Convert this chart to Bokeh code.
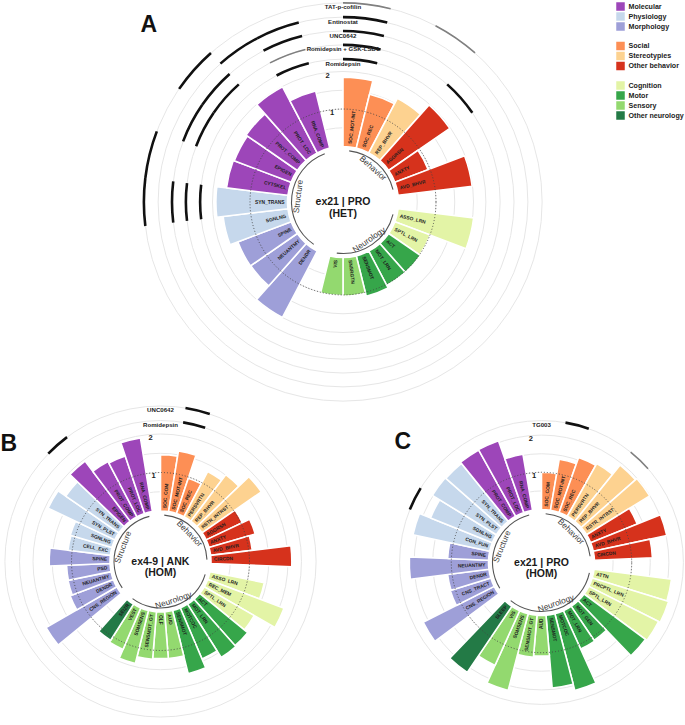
import numpy as np
from bokeh.plotting import figure
from bokeh.models import Range1d
from bokeh.embed import file_html
from bokeh.resources import INLINE
from bokeh.core.properties import value

# ---------------- data ----------------
CLASS_COLORS = {
    "Molecular": "#9d46b9", "Physiology": "#c6d8ec", "Morphology": "#9e9fd8",
    "Social": "#fd8f55", "Stereotypies": "#fdd290", "Other behavior": "#d6321c",
    "Cognition": "#e3f4a6", "Motor": "#36a64a", "Sensory": "#93d96f",
    "Other neurology": "#237a46",
}
LEGEND_BLOCKS = [["Molecular", "Physiology", "Morphology"],
                 ["Social", "Stereotypies", "Other behavior"],
                 ["Cognition", "Motor", "Sensory", "Other neurology"]]

# Panel A  ex21 | PRO (HET)
A_beh_lab = ["SOC_MOT-INT", "SOC_REC", "REP_BHVR", "AGGRSN", "ANXTY", "AVD_BHVR"]
A_beh_val = [1.85, 1.48, 1.64, 1.98, 0.95, 1.99]
A_beh_cls = ["Social", "Social", "Stereotypies", "Other behavior", "Other behavior", "Other behavior"]
A_neu_lab = ["ASSO_LRN", "SPTL_LRN", "ACT", "MOT_LRN", "SENSMOT", "SNSRGTN", "VIS"]
A_neu_val = [2.03, 1.01, 1.03, 1.03, 1.11, 1.03, 1.02]
A_neu_cls = ["Cognition", "Cognition", "Motor", "Motor", "Motor", "Sensory", "Sensory"]
A_str_lab = ["DENDR", "NEUANTMY", "SPINE", "SGNLNG", "SYN_TRANS", "CYTSKEL", "EPIGEN", "PROT_COMP", "PROT_LOC", "RNA_COMP"]
A_str_val = [2.00, 1.51, 1.52, 1.74, 1.91, 1.65, 1.62, 1.66, 1.99, 1.57]
A_str_cls = ["Morphology", "Morphology", "Morphology", "Physiology", "Physiology",
             "Molecular", "Molecular", "Molecular", "Molecular", "Molecular"]
A_drugs = ["Romidepsin", "Romidepsin + GSK-LSD1", "UNC0642", "Entinostat", "TAT-p-cofilin"]
A_drug_hits = [
    {"SOC_MOT-INT": "k", "RNA_COMP": "k", "SYN_TRANS": "k"},
    {"SOC_MOT-INT": "k", "AGGRSN": "k", "RNA_COMP": "g", "PROT_COMP": "k", "EPIGEN": "k", "SYN_TRANS": "k"},
    {"SOC_MOT-INT": "k", "RNA_COMP": "k", "PROT_COMP": "k", "EPIGEN": "k", "SYN_TRANS": "k"},
    {"SOC_MOT-INT": "k", "RNA_COMP": "k", "PROT_LOC": "k"},
    {"SOC_MOT-INT": "g", "REP_BHVR": "g", "PROT_COMP": "k", "CYTSKEL": "k", "SYN_TRANS": "k"},
]

# Panel B  ex4-9 | ANK (HOM)
B_beh_lab = ["SOC_COM", "SOC_MOT-INT", "SOC_REC", "PERSVRTN", "REP_BHVR", "RSTR_INTRST",
             "AGGRSN", "ANXTY", "AVD_BHVR", "CIRCDN"]
B_beh_val = [1.46, 1.60, 0.97, 1.33, 1.51, 1.87, 1.04, 1.25, 1.09, 2.10]
B_beh_cls = ["Social"] * 3 + ["Stereotypies"] * 3 + ["Other behavior"] * 4
B_neu_lab = ["ASSO_LRN", "REC_MEM", "SPTL_LRN", "ACT", "MOT_LRN", "MOTCOC", "SENSMOT",
             "AUD", "OLF", "SENSMOT_GT", "SOMSENS", "VEST", "SEIZR"]
B_neu_val = [1.44, 2.12, 1.50, 1.61, 1.64, 1.44, 1.69, 1.22, 1.21, 1.24, 1.42, 1.17, 1.11]
B_neu_cls = ["Cognition"] * 3 + ["Motor"] * 4 + ["Sensory"] * 5 + ["Other neurology"]
B_str_lab = ["CNS_REGION", "DENDR", "NEUANTMY", "PSD", "SPINE", "CELL_EXC", "SGNLNG",
             "SYN_PLST", "SYN_TRANS", "EPIGEN", "PROT_COMP", "PROT_LOC", "RNA_COMP"]
B_str_val = [2.12, 1.20, 1.14, 1.13, 1.58, 1.11, 1.13, 1.92, 1.68, 1.95, 1.62, 1.58, 1.94]
B_str_cls = ["Morphology"] * 5 + ["Physiology"] * 4 + ["Molecular"] * 4
B_drugs = ["Romidepsin", "UNC0642"]
B_drug_hits = [{"SOC_MOT-INT": "k"}, {"SOC_MOT-INT": "k", "EPIGEN": "k"}]

# Panel C  ex21 | PRO (HOM)
C_beh_lab = ["SOC_COM", "SOC_MOT-INT", "SOC_REC", "PERSVRTN", "REP_BHVR", "RSTR_INTRST",
             "ANXTY", "AVD_BHVR", "CIRCDN"]
C_beh_val = [1.00, 1.39, 1.57, 1.62, 1.94, 1.99, 1.35, 2.02, 1.56]
C_beh_cls = ["Social"] * 3 + ["Stereotypies"] * 3 + ["Other behavior"] * 3
C_neu_lab = ["ATTN", "PRCPTL_LRN", "SPTL_LRN", "ACT", "MOT_GEN", "MOT_LRN", "MOTCOC", "SENSMOT",
             "AUD", "SENSMOT_GT", "SOMSENS", "VIS", "SLEEP"]
C_neu_val = [2.10, 2.15, 2.10, 2.05, 1.10, 1.13, 2.13, 1.96, 1.09, 1.13, 2.13, 1.61, 2.14]
C_neu_cls = ["Cognition"] * 3 + ["Motor"] * 5 + ["Sensory"] * 4 + ["Other neurology"]
C_str_lab = ["CNS_REGION", "CNS_TRACT", "DENDR", "NEUANTMY", "SPINE", "CON_FUN", "SGNLNG",
             "SYN_PLST", "SYN_TRANS", "PROT_COMP", "PROT_LOC", "RNA_COMP"]
C_str_val = [2.14, 1.14, 1.12, 2.13, 1.10, 2.11, 1.79, 2.02, 2.00, 2.04, 2.05, 1.53]
C_str_cls = ["Morphology"] * 5 + ["Physiology"] * 4 + ["Molecular"] * 3
C_drugs = ["TG003"]
C_drug_hits = [{"SOC_MOT-INT": "k", "REP_BHVR": "g", "SGNLNG": "k"}]

GRID_VALUES = [0.5, 1.0, 1.5, 2.0]

# ---------------- figure ----------------
PAGE_W, PAGE_H = 685, 725
p = figure(width=PAGE_W, height=PAGE_H, x_range=Range1d(0, PAGE_W), y_range=Range1d(0, PAGE_H),
           output_backend="svg", toolbar_location=None, min_border=0)
p.axis.visible = False
p.grid.visible = False
p.outline_line_color = None
p.background_fill_color = "white"

FONT = value("Liberation Sans")
D2R = np.pi / 180.0


def panel(cx, cy_page, R0, S, groups, drugs, hits, track_vals, title1, title2, letter, letter_xy):
    cy = PAGE_H - cy_page
    slots = []
    spans = []
    for gname, labs, vals, clss in groups:
        first = len(slots)
        for l, v, c in zip(labs, vals, clss):
            slots.append((l, v, c))
        spans.append((gname, first, len(slots) - 1))
        slots.append(None)
    n = len(slots)
    dth = 360.0 / n

    # grid circles
    radii = [R0 + S * g for g in GRID_VALUES] + [R0 + S * t for t in track_vals]
    p.arc(x=[cx] * len(radii), y=[cy] * len(radii), radius=radii, start_angle=0, end_angle=2 * np.pi,
          line_color="#e6e6e6", line_width=1)

    # bars
    st, en, outr, cols = [], [], [], []
    for i, s in enumerate(slots):
        if s is None:
            continue
        t0, t1 = i * dth, (i + 1) * dth
        st.append((90 - t1) * D2R)
        en.append((90 - t0) * D2R)
        outr.append(R0 + S * s[1])
        cols.append(CLASS_COLORS[s[2]])
    p.annular_wedge(x=cx, y=cy, inner_radius=R0, outer_radius=outr, start_angle=st, end_angle=en,
                    fill_color=cols, line_color="white", line_width=1.6)

    # dotted circle at 1
    p.arc(x=cx, y=cy, radius=R0 + S, start_angle=0, end_angle=2 * np.pi,
          line_color="#444444", line_width=0.9, line_dash="1 2")

    # bar labels
    for i, s in enumerate(slots):
        if s is None:
            continue
        th = (i + 0.5) * dth
        r = R0 + 3
        x = cx + r * np.sin(th * D2R)
        y = cy + r * np.cos(th * D2R)
        if th < 180:
            ang, al = (90 - th) * D2R, "left"
        else:
            ang, al = (270 - th) * D2R, "right"
        p.text(x=[x], y=[y], text=[s[0]], angle=ang, text_align=al, text_baseline="middle",
               text_font=FONT, text_font_size="4.9px", text_font_style="bold", text_color="#1e1e1e")

    # group arcs and names
    for gname, a, b in spans:
        ta, tb = (a + 0.5) * dth, (b + 0.5) * dth
        p.arc(x=cx, y=cy, radius=R0 - 4, start_angle=(90 - tb) * D2R, end_angle=(90 - ta) * D2R,
              line_color="#555555", line_width=1.1)
        tm = (ta + tb) / 2
        r = R0 - 10
        x = cx + r * np.sin(tm * D2R)
        y = cy + r * np.cos(tm * D2R)
        if 90 < tm < 270:
            ang = (180 - tm) * D2R
        else:
            ang = -tm * D2R
        p.text(x=[x], y=[y], text=[gname], angle=ang, text_align="center", text_baseline="middle",
               text_font=FONT, text_font_size="8.3px", text_color="#3a3a3a")

    # scale labels
    tg = (n - 0.5) * dth
    for v in [1, 2]:
        r = R0 + S * v - 3
        p.text(x=[cx + r * np.sin(tg * D2R)], y=[cy + r * np.cos(tg * D2R)], text=[str(v)],
               text_align="center", text_baseline="middle", text_font=FONT, text_font_size="7.5px",
               text_font_style="bold", text_color="#222222")

    # drug tracks
    labidx = {s[0]: i for i, s in enumerate(slots) if s is not None}
    for k, (dname, hit) in enumerate(zip(drugs, hits)):
        r = R0 + S * track_vals[k]
        for lab, shade in hit.items():
            i = labidx[lab]
            t0, t1 = i * dth, (i + 1) * dth
            p.arc(x=cx, y=cy, radius=r, start_angle=(90 - t1) * D2R, end_angle=(90 - t0) * D2R,
                  line_color="#111111" if shade == "k" else "#808080",
                  line_width=2.6 if shade == "k" else 1.6)
        p.text(x=[cx], y=[cy + r - 4], text=[dname], text_align="center", text_baseline="middle",
               text_font=FONT, text_font_size="6.1px", text_font_style="bold", text_color="#222222")

    # center titles
    p.text(x=[cx, cx], y=[cy + 1, cy - 10.5], text=[title1, title2], text_align="center",
           text_baseline="middle", text_font=FONT, text_font_size="10.5px", text_font_style="bold",
           text_color="#1a1a1a")
    p.text(x=[letter_xy[0]], y=[PAGE_H - letter_xy[1]], text=[letter], text_align="left",
           text_baseline="alphabetic", text_font=FONT, text_font_size="23px", text_font_style="bold",
           text_color="#111111")


panel(342.5, 201.5, 55.5, 37.5,
      [("Behavior", A_beh_lab, A_beh_val, A_beh_cls), ("Neurology", A_neu_lab, A_neu_val, A_neu_cls),
       ("Structure", A_str_lab, A_str_val, A_str_cls)],
      A_drugs, A_drug_hits, [2.33, 2.71, 3.08, 3.45, 3.83], "ex21 | PRO", "(HET)", "A", (140, 23.5))
panel(160, 561, 50.5, 38.5,
      [("Behavior", B_beh_lab, B_beh_val, B_beh_cls), ("Neurology", B_neu_lab, B_neu_val, B_neu_cls),
       ("Structure", B_str_lab, B_str_val, B_str_cls)],
      B_drugs, B_drug_hits, [2.35, 2.73], "ex4-9 | ANK", "(HOM)", "B", (0, 442))
panel(541, 562, 53, 37.2,
      [("Behavior", C_beh_lab, C_beh_val, C_beh_cls), ("Neurology", C_neu_lab, C_neu_val, C_neu_cls),
       ("Structure", C_str_lab, C_str_val, C_str_cls)],
      C_drugs, C_drug_hits, [2.39], "ex21 | PRO", "(HOM)", "C", (394, 440))

# legend
ly = 6
for block in LEGEND_BLOCKS:
    for name in block:
        p.rect(x=[620], y=[PAGE_H - ly], width=8.5, height=8.5, fill_color=CLASS_COLORS[name],
               line_color=None)
        p.text(x=[628], y=[PAGE_H - ly], text=[name], text_align="left", text_baseline="middle",
               text_font=FONT, text_font_size="7.1px", text_font_style="bold", text_color="#222222")
        ly += 10
    ly += 9.5

open("out.html", "w").write(file_html(p, INLINE))
